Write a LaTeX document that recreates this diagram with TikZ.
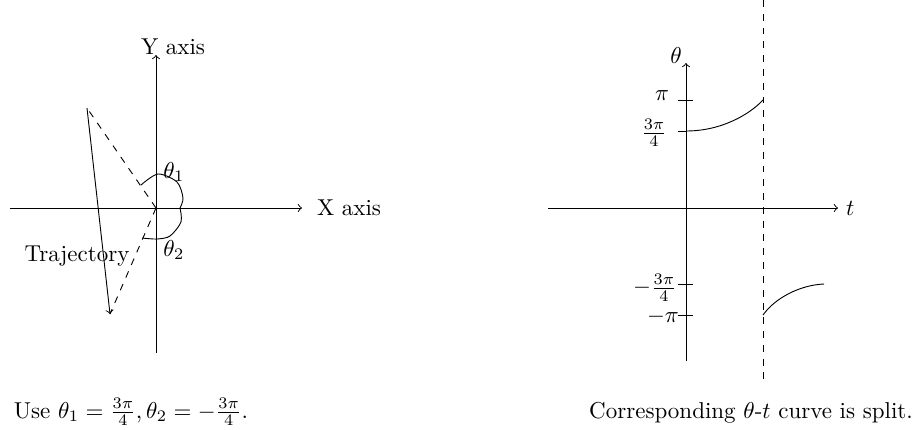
\documentclass[tikz,border=0pt]{standalone}
\usepackage{tikz}
\usetikzlibrary{positioning}

\begin{document}
\begin{tikzpicture}[x=0.435pt, y=0.435pt, arrow/.style={->}, dashline/.style={dashed}, tick/.style={}]

\useasboundingbox (0,0) rectangle (916,429);

%lijeva slika: osi
\coordinate (O) at (156,221);
\coordinate (xl) at (10,221);
\coordinate (xr) at (302,221);
\coordinate (yb) at (156,76);
\coordinate (yt) at (156,374);
\draw[arrow] (xl) -- (xr);
\draw[arrow] (yb) -- (yt);
\node (xlab) [right=3pt of xr] {X axis};
\node (ylab) [anchor=base] at (173,375) {Y axis};

%putanja i isprekidane linije
\coordinate (p1) at (87,321);
\coordinate (p2) at (110,115);
\draw[arrow] (p1) -- (p2);
\draw[dashline] (O) -- (p1);
\draw[dashline] (O) -- (p2);
\node (traj) at (77,173) {Trajectory};

%kutovi
\draw plot[smooth] coordinates {(141,244) (158,255) (177,247) (183,231) (180,221)};
\draw plot[smooth] coordinates {(180,221) (181,207) (170,193) (157,190) (142,191)};
\node (th1) at (174,257) {$\theta_1$};
\node (th2) at (174,179) {$\theta_2$};

%desna slika: osi
\coordinate (Q) at (686,221);
\coordinate (tl) at (548,221);
\coordinate (tr) at (838,221);
\coordinate (thb) at (686,68);
\coordinate (tht) at (686,366);
\draw[arrow] (tl) -- (tr);
\draw[arrow] (thb) -- (tht);
\node (tlab) [right=0pt of tr] {$t$};
\node (thlab) at (676,373) {$\theta$};

%oznake na osi
\draw[tick] (678,329) -- (693,329);
\draw[tick] (678,298) -- (686,298);
\draw[tick] (678,145) -- (693,145);
\draw[tick] (678,114) -- (693,114);
\node (pi) at (662,333) {$\pi$};
\node (tqp) at (654,296) {$\frac{3\pi}{4}$};
\node (mtqp) at (655,141) {$-\frac{3\pi}{4}$};
\node (mpi) at (663,112) {$-\pi$};

%prekid
\coordinate (da) at (763,429);
\coordinate (db) at (763,46);
\draw[dashline] (da) -- (db);

%krivulje
\draw (686,298) .. controls (722,298) and (750,315) .. (763,329);
\draw (763,114) .. controls (775,131) and (800,144) .. (824,145);

%opisi
\node (cap1) [anchor=base] at (131,11) {Use $\theta_1=\frac{3\pi}{4},\theta_2=-\frac{3\pi}{4}$.};
\node (cap2) [anchor=base] at (751,11) {Corresponding $\theta$-$t$ curve is split.};

\end{tikzpicture}
\end{document}
